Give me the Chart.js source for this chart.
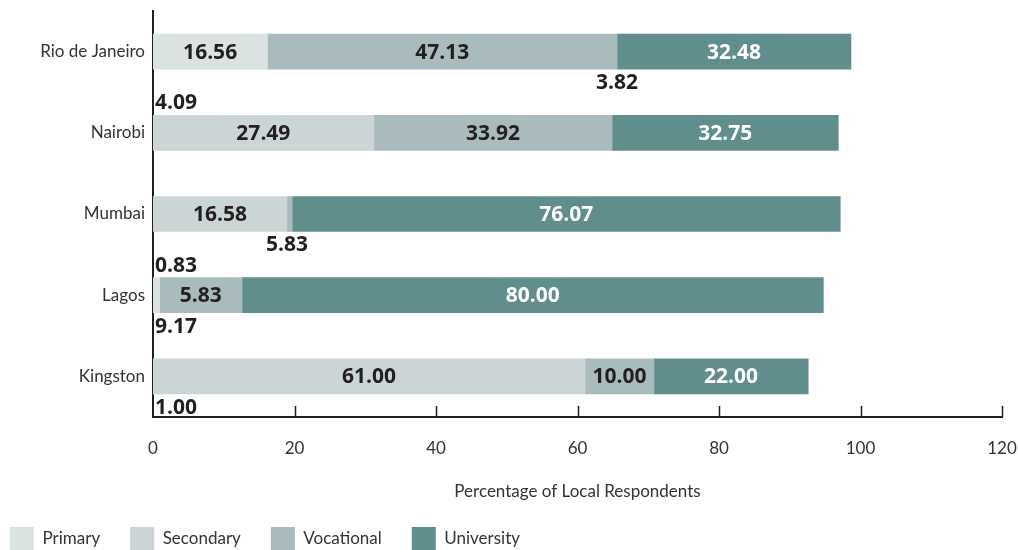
<!DOCTYPE html>
<html>
<head>
<meta charset="utf-8">
<script src="https://cdn.jsdelivr.net/npm/chart.js@4.4.1/dist/chart.umd.min.js"></script>
<style>
  html, body { margin: 0; padding: 0; background: #fff; }
  #wrap { width: 1018px; height: 550px; }
</style>
</head>
<body>
<div id="wrap"><canvas id="chart" width="1018" height="550"></canvas></div>
<script>
const cities = ["Rio de Janeiro", "Nairobi", "Mumbai", "Lagos", "Kingston"];
const seriesNames = ["Primary", "Secondary", "Vocational", "University"];
const seriesColors = ["#dae3e1", "#cbd5d5", "#aabbbd", "#608e8c"];

// bar lengths as drawn, read against the x axis
const primaryVals    = [16.15, 0, 0, 0.94, 0];
const secondaryVals  = [0, 31.2, 18.93, 0, 61.08];
const vocationalVals = [49.45, 33.69, 0.75, 11.65, 9.72];
const universityVals = [33.05, 31.97, 77.46, 82.16, 21.81];

// numbers printed inside the bars
const primaryText    = ["16.56", "", "", "", ""];
const secondaryText  = ["", "27.49", "16.58", "", "61.00"];
const vocationalText = ["47.13", "33.92", "", "5.83", "10.00"];
const universityText = ["32.48", "32.75", "76.07", "80.00", "22.00"];

// numbers printed next to a bar, at the left edge of one segment
const noteCity   = ["Rio de Janeiro", "Nairobi", "Mumbai", "Lagos", "Lagos", "Kingston"];
const noteSeries = ["University", "Secondary", "Vocational", "Primary", "Vocational", "Secondary"];
const noteText   = ["3.82", "4.09", "5.83", "0.83", "9.17", "1.00"];
const noteSide   = ["below", "above", "below", "above", "below", "below"];

const xTicks = [0, 20, 40, 60, 80, 100, 120];

const thinFont = "Lato, 'Open Sans', sans-serif";
const boldFont = "'Open Sans', 'DejaVu Sans', sans-serif";
const ink = "#231f20";

const allVals = [primaryVals, secondaryVals, vocationalVals, universityVals];
const allText = [primaryText, secondaryText, vocationalText, universityText];

const datasets = seriesNames.map(function (name, i) {
  return {
    label: name,
    data: allVals[i],
    backgroundColor: seriesColors[i],
    borderWidth: 0,
    barThickness: 35
  };
});

// value labels inside the segments, and the loose numbers beside the bars
const valueLabels = {
  id: "valueLabels",
  afterDatasetsDraw(chart) {
    const ctx = chart.ctx;
    const left = chart.chartArea.left;
    ctx.save();
    ctx.font = "bold 21px " + boldFont;
    ctx.textAlign = "center";
    ctx.textBaseline = "middle";

    chart.data.datasets.forEach(function (ds, d) {
      const meta = chart.getDatasetMeta(d);
      meta.data.forEach(function (bar, i) {
        const txt = allText[d][i];
        if (!txt) return;
        const cx = (bar.x + bar.base) / 2;
        ctx.fillStyle = seriesNames[d] === "University" ? "#ffffff" : ink;
        ctx.fillText(txt, cx, bar.y + 1);
      });
    });

    ctx.fillStyle = ink;
    noteText.forEach(function (txt, n) {
      const d = seriesNames.indexOf(noteSeries[n]);
      const i = cities.indexOf(noteCity[n]);
      const bar = chart.getDatasetMeta(d).data[i];
      const w = ctx.measureText(txt).width;
      let cx = bar.base;
      if (cx - w / 2 < left + 2) cx = left + 2 + w / 2;
      const half = bar.height / 2;
      const y = noteSide[n] === "above" ? bar.y - half - 12 : bar.y + half + 14;
      ctx.fillText(txt, cx, y);
    });
    ctx.restore();
  }
};

// small tick marks pointing up from the x axis
const innerTicks = {
  id: "innerTicks",
  afterDraw(chart) {
    const ctx = chart.ctx;
    const xs = chart.scales.x;
    const bottom = chart.chartArea.bottom;
    ctx.save();
    ctx.strokeStyle = ink;
    ctx.lineWidth = 1.5;
    xTicks.forEach(function (v) {
      if (v === 0) return;
      const px = Math.round(xs.getPixelForValue(v)) + 0.5;
      ctx.beginPath();
      ctx.moveTo(px, bottom);
      ctx.lineTo(px, bottom - 11);
      ctx.stroke();
    });
    ctx.restore();
  }
};

new Chart(document.getElementById("chart"), {
  type: "bar",
  data: { labels: cities, datasets: datasets },
  options: {
    indexAxis: "y",
    responsive: false,
    animation: false,
    layout: { padding: { top: 11, right: 16, left: -20, bottom: -10 } },
    plugins: {
      legend: {
        position: "bottom",
        align: "start",
        labels: {
          boxWidth: 24,
          boxHeight: 23,
          padding: 30,
          color: "#333",
          font: { family: thinFont, size: 17 }
        }
      },
      tooltip: { enabled: false }
    },
    scales: {
      x: {
        stacked: true,
        min: 0,
        max: 120,
        afterBuildTicks: function (scale) {
          scale.ticks = xTicks.map(function (v) { return { value: v }; });
        },
        afterFit: function (scale) {
          scale.height = 80;
          scale.paddingLeft = 0;
          scale.paddingRight = 0;
        },
        grid: { display: false },
        border: { display: true, color: ink, width: 2 },
        ticks: { color: "#333", padding: 13, font: { family: thinFont, size: 17 } },
        title: {
          display: true,
          text: "Percentage of Local Respondents",
          color: "#333",
          padding: { top: 0, bottom: -5 },
          font: { family: thinFont, size: 17 }
        }
      },
      y: {
        stacked: true,
        afterFit: function (scale) {
          scale.width = 173;
          scale.paddingTop = 0;
          scale.paddingBottom = 0;
        },
        grid: { display: false },
        border: { display: true, color: ink, width: 2 },
        ticks: { color: "#333", padding: 0, font: { family: thinFont, size: 17 } }
      }
    }
  },
  plugins: [valueLabels, innerTicks]
});
</script>
</body>
</html>
